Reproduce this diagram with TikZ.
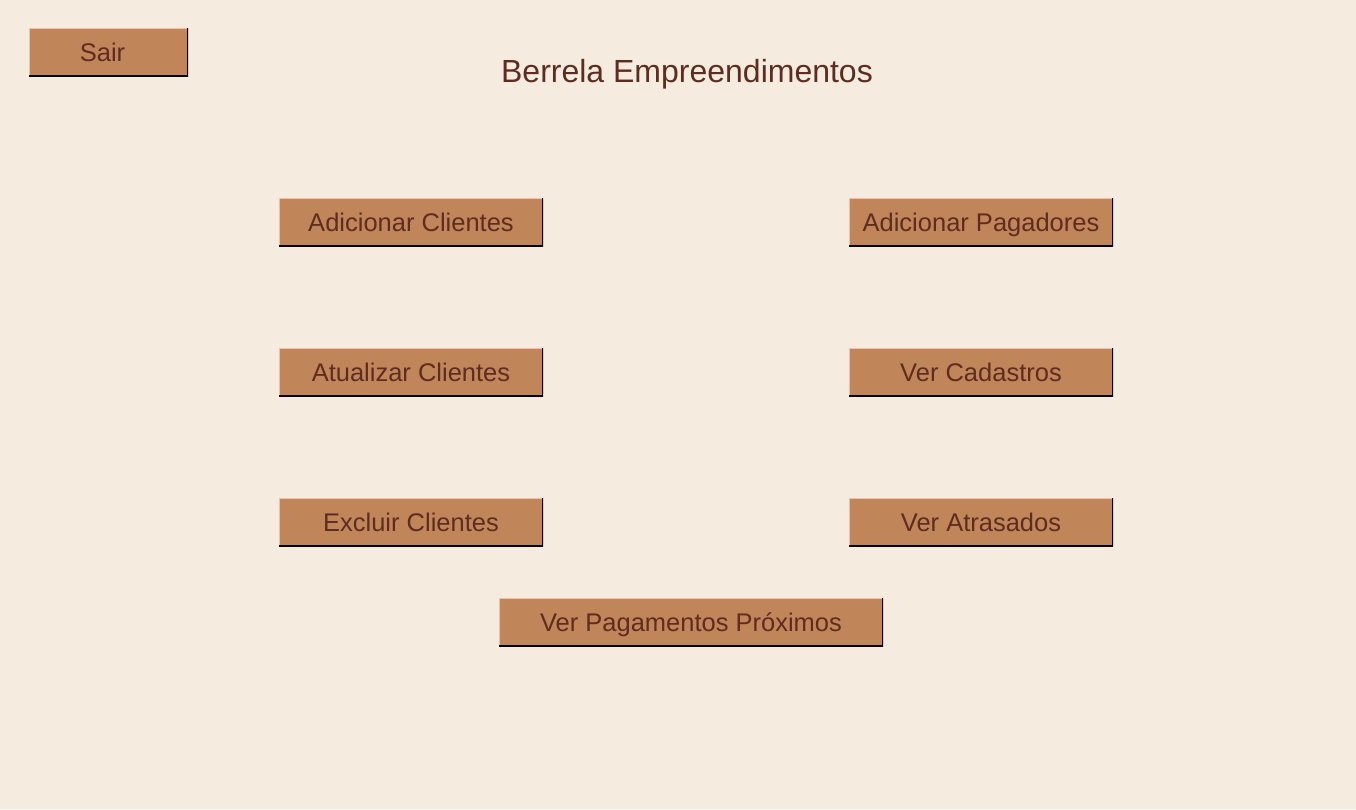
\documentclass[tikz,border=0pt]{standalone}
\usepackage{fontspec}
\setmainfont{Liberation Sans}
\definecolor{bgcol}{HTML}{F5EBDF}
\definecolor{btnfill}{HTML}{C1855A}
\definecolor{btntext}{HTML}{5F2C20}
\definecolor{btnlight}{HTML}{F5BFA5}
\tikzstyle{button}=[rectangle,fill=btnfill,text=btntext,inner sep=0pt,minimum height=48pt,minimum width=264pt,
	text height=19pt,text depth=0pt,font=\fontsize{25.5}{30}\selectfont,
	path picture={
		\draw[btnlight,line width=2pt] (path picture bounding box.south west) |- (path picture bounding box.north east);
		\draw[black,line width=3pt] (path picture bounding box.south west) -| (path picture bounding box.north east);
	}]

\begin{document}
\begin{tikzpicture}[x=1pt,y=-1pt]
	\useasboundingbox[fill=bgcol] (0,0) rectangle (1356,809);
	% top row
	\node[button,minimum width=159pt] (sair) at (108.5,52) {Sair\kern12pt};
	\node[text=btntext,anchor=base,inner sep=0pt,font=\fontsize{32}{38}\selectfont] (title) at (687,82) {Berrela Empreendimentos};

	% left column
	\node[button] (addcli) at (411,222) {Adicionar Clientes};
	\node[button] (updcli) at (411,372) {Atualizar Clientes};
	\node[button] (delcli) at (411,522) {Excluir Clientes};

	% right column
	\node[button] (addpag) at (981,222) {Adicionar Pagadores};
	\node[button] (vercad) at (981,372) {Ver Cadastros};
	\node[button] (veratr) at (981,522) {Ver Atrasados};

	% bottom
	\node[button,minimum width=384pt] (verpag) at (691,622) {Ver Pagamentos Próximos};
\end{tikzpicture}
\end{document}
